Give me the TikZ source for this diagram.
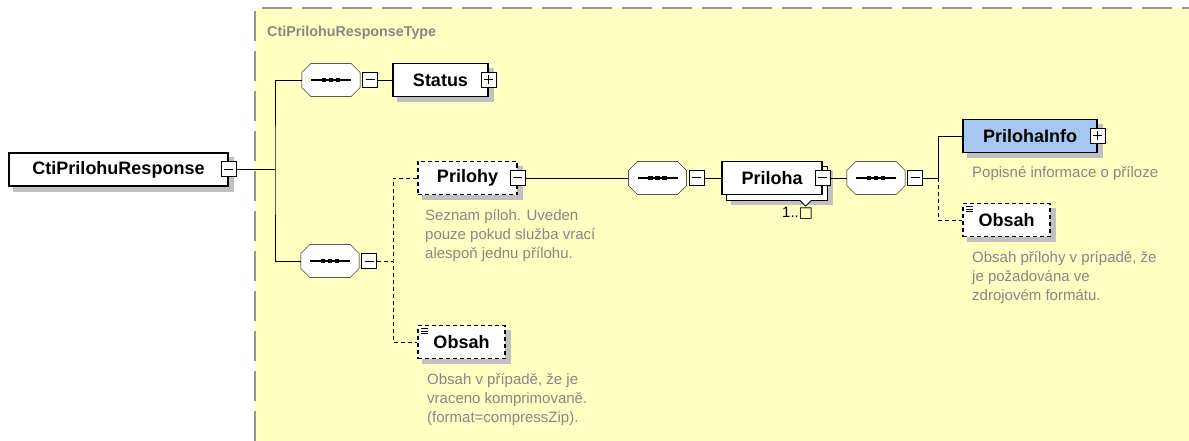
\documentclass[tikz,border=0pt]{standalone}
\usepackage{fontspec}
\setmainfont{Liberation Sans}
\newfontfamily\symfont{DejaVu Sans}
\usetikzlibrary{positioning}

\definecolor{typeyellow}{RGB}{255,255,194}
\definecolor{typeborder}{RGB}{150,150,150}
\definecolor{shadowgray}{RGB}{192,192,192}
\definecolor{descgray}{RGB}{135,135,135}
\definecolor{infoblue}{RGB}{166,200,240}

\pgfdeclarelayer{shade}
\pgfsetlayers{shade,main}

\begin{document}
\begin{tikzpicture}[x=1pt,y=-1pt,line width=1.2pt]

  \tikzstyle{elem}=[rectangle,draw,fill=white,inner sep=0pt,minimum height=33pt,
                    font=\bfseries\fontsize{18}{20}\selectfont]
  \tikzstyle{optelem}=[elem,dash pattern=on 4pt off 3pt]
  \tikzstyle{docelem}=[optelem,path picture={
      \foreach \dy in {3,5.5,8}
        \draw[solid,line width=0.8pt] ([xshift=3pt,yshift=-\dy pt]path picture bounding box.north west) -- ++(7pt,0pt);}]
  \tikzstyle{seq}=[rectangle,inner sep=0pt,minimum width=57pt,minimum height=32pt]
  \tikzstyle{toggle}=[rectangle,draw,solid,fill=white,minimum size=15pt,inner sep=0pt,line width=1pt]
  \tikzstyle{minusbox}=[toggle,path picture={
      \draw[line width=1pt] ([xshift=-4.5pt]path picture bounding box.center) -- ([xshift=4.5pt]path picture bounding box.center);}]
  \tikzstyle{plusbox}=[toggle,path picture={
      \draw[line width=1pt] ([xshift=-4.5pt]path picture bounding box.center) -- ([xshift=4.5pt]path picture bounding box.center);
      \draw[line width=1pt] ([yshift=-4.5pt]path picture bounding box.center) -- ([yshift=4.5pt]path picture bounding box.center);}]
  \tikzstyle{desc}=[anchor=north west,align=left,inner sep=0pt,text=descgray,
                    font=\fontsize{15}{19}\selectfont]
  \tikzstyle{optline}=[dash pattern=on 4pt off 3pt]

  \useasboundingbox (0,0) rectangle (1189,441);

  % nodes
  \node[elem,minimum width=219pt]      (root)    at (118.5,169.5) {CtiPrilohuResponse};
  \node[minusbox]                      (rootT)   at (root.east)   {};

  \node[seq]                           (seqA)    at (331,80)      {};
  \node[minusbox,right=2pt of seqA.east] (seqAT)                  {};
  \node[elem,minimum width=95pt]       (status)  at (440.5,80)    {Status};
  \node[plusbox]                       (statusT) at (status.east) {};

  \node[seq]                           (seqB)    at (330,261)     {};
  \node[minusbox,right=2pt of seqB.east] (seqBT)                  {};
  \node[optelem,minimum width=99pt]    (prilohy) at (467.5,178)   {Prilohy};
  \node[minusbox]                      (prilohyT) at (prilohy.east) {};
  \node[docelem,minimum width=87pt]    (obsahA)  at (461.5,342)   {Obsah};

  \node[seq]                           (seqC)    at (657.5,178)   {};
  \node[minusbox,right=2pt of seqC.east] (seqCT)                  {};
  \node[elem,minimum width=100pt]      (priloha) at (772,178)     {Priloha};
  \node[minusbox]                      (prilohaT) at (priloha.east) {};

  \node[seq]                           (seqD)    at (876,178)     {};
  \node[minusbox,right=2pt of seqD.east] (seqDT)                  {};
  \node[elem,fill=infoblue,minimum width=134pt] (info) at (1030,136) {PrilohaInfo};
  \node[plusbox]                       (infoT)   at (info.east)   {};
  \node[docelem,minimum width=87pt]    (obsahB)  at (1006.5,220)  {Obsah};

  % sequence compositors
  \foreach \s in {seqA,seqB,seqC,seqD} {
    \begin{pgfonlayer}{shade}
      \fill[shadowgray,shift={(5pt,-5pt)}]
        ([xshift=9pt]\s.north west) -- ([xshift=-9pt]\s.north east) -- ([yshift=-9pt]\s.north east)
        -- ([yshift=9pt]\s.south east) -- ([xshift=-9pt]\s.south east) -- ([xshift=9pt]\s.south west)
        -- ([yshift=9pt]\s.south west) -- ([yshift=-9pt]\s.north west) -- cycle;
    \end{pgfonlayer}
    \draw[fill=white]
      ([xshift=9pt]\s.north west) -- ([xshift=-9pt]\s.north east) -- ([yshift=-9pt]\s.north east)
      -- ([yshift=9pt]\s.south east) -- ([xshift=-9pt]\s.south east) -- ([xshift=9pt]\s.south west)
      -- ([yshift=9pt]\s.south west) -- ([yshift=-9pt]\s.north west) -- cycle;
    \draw[line width=1.2pt] ([xshift=-20pt]\s.center) -- ([xshift=20pt]\s.center);
    \foreach \dx in {-7,0,7}
      \fill[black] ([xshift=\dx pt]\s.center) +(-2.2pt,-2.2pt) rectangle +(2.2pt,2.2pt);
  }

  % complex type area and shadows
  \begin{pgfonlayer}{shade}
    \fill[typeyellow] (255,8) rectangle (1189,441);
    \draw[typeborder,line width=1.5pt,dash pattern=on 30pt off 10pt] (255,441) -- (255,8) -- (1189,8);
    \foreach \n in {root,status,prilohy,obsahA,info,obsahB}
      \fill[shadowgray] ([shift={(5pt,-5pt)}]\n.north west) rectangle ([shift={(5pt,-5pt)}]\n.south east);
    \fill[shadowgray] ([shift={(10pt,-10pt)}]priloha.north west) rectangle ([shift={(10pt,-10pt)}]priloha.south east);
    \draw[fill=white] ([shift={(5pt,-5pt)}]priloha.north west) rectangle ([shift={(5pt,-5pt)}]priloha.south east);
  \end{pgfonlayer}
  \node[anchor=base west,inner sep=0pt,text=descgray,font=\bfseries\fontsize{14.3}{16}\selectfont]
       (typename) at (267,37) {CtiPrilohuResponseType};

  % occurrence mark
  \draw[fill=white,line width=0.8pt] ([xshift=-23pt,yshift=-5pt]priloha.south east)
       -- ([xshift=-17pt,yshift=-11pt]priloha.south east) -- ([xshift=-11pt,yshift=-5pt]priloha.south east);
  \node[anchor=base west,inner sep=0pt,font=\fontsize{15}{17}\selectfont] (prilohaOcc) at (782,217) {1..{\symfont □}};

  % annotations
  \node[desc] (prilohyDesc) at (425,209) {Seznam píloh. Uveden\\pouze pokud služba vrací\\alespoň jednu přílohu.};
  \node[desc] (obsahADesc)  at (427,373) {Obsah v případě, že je\\vraceno komprimovaně.\\(format=compressZip).};
  \node[desc] (infoDesc)    at (972,166) {Popisné informace o příloze};
  \node[desc] (obsahBDesc)  at (972,251) {Obsah přílohy v prípadě, že\\je požadována ve\\zdrojovém formátu.};

  % connectors
  \coordinate (jA) at (275,169.5);
  \coordinate (jB) at (393,261);
  \coordinate (jD) at (938,178);

  \draw (rootT.east) -- (jA);
  \draw (seqA.west) -| (jA) |- (seqB.west);
  \draw (seqAT.east) -- (status.west);
  \draw[optline] (seqBT.east) -- (jB);
  \draw[optline] (prilohy.west) -| (jB) |- (obsahA.west);
  \draw (prilohyT.east) -- (seqC.west);
  \draw (seqCT.east) -- (priloha.west);
  \draw (prilohaT.east) -- (seqD.west);
  \draw (seqDT.east) -- (jD);
  \draw (info.west) -| (jD);
  \draw[optline] (jD) |- (obsahB.west);

\end{tikzpicture}
\end{document}
